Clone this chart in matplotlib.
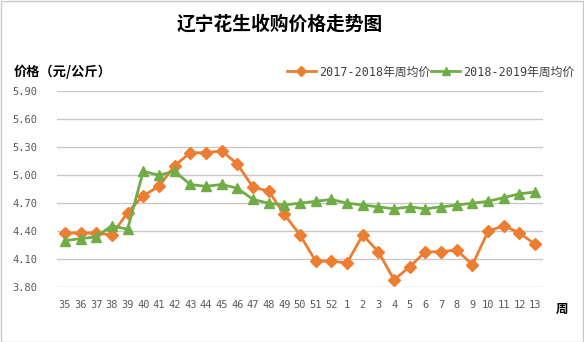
import matplotlib
matplotlib.use("Agg")
import matplotlib.pyplot as plt
from matplotlib.patches import Rectangle

plt.rcParams["font.family"] = ["Noto Sans CJK SC", "DejaVu Sans"]

weeks = ["35", "36", "37", "38", "39", "40", "41", "42", "43", "44", "45", "46",
         "47", "48", "49", "50", "51", "52", "1", "2", "3", "4", "5", "6", "7",
         "8", "9", "10", "11", "12", "13"]
price_1718 = [4.38, 4.38, 4.38, 4.36, 4.60, 4.78, 4.88, 5.10, 5.24, 5.24, 5.26, 5.12,
              4.87, 4.83, 4.58, 4.36, 4.08, 4.08, 4.06, 4.36, 4.18, 3.88, 4.02, 4.18,
              4.18, 4.20, 4.04, 4.40, 4.46, 4.38, 4.26]
price_1819 = [4.30, 4.32, 4.34, 4.46, 4.42, 5.04, 5.00, 5.04, 4.90, 4.88, 4.90, 4.86,
              4.74, 4.70, 4.68, 4.70, 4.72, 4.74, 4.70, 4.68, 4.66, 4.64, 4.66, 4.64,
              4.66, 4.68, 4.70, 4.72, 4.76, 4.80, 4.82]
yticks = [3.80, 4.10, 4.40, 4.70, 5.00, 5.30, 5.60, 5.90]

mono_cjk = ["DejaVu Sans Mono", "Noto Sans CJK SC"]

fig = plt.figure(figsize=(5.84, 3.42), dpi=100)
ax = fig.add_axes([57 / 584, 1 - 287.3 / 342, 486 / 584, 196.3 / 342])

x = list(range(len(weeks)))
ax.plot(x, price_1718, color="#ED7D31", lw=2, marker="D", ms=6.5,
        label="2017-2018年周均价", zorder=3)
ax.plot(x, price_1819, color="#70AD47", lw=2, marker="^", ms=6.5,
        label="2018-2019年周均价", zorder=3)

ax.set_xlim(-0.5, len(weeks) - 0.5)
ax.set_ylim(3.80, 5.90)
ax.set_yticks(yticks)
ax.set_yticklabels([f"{v:.2f}" for v in yticks], fontsize=7.5, color="#595959",
                   family="DejaVu Sans Mono")
ax.set_xticks(x)
ax.set_xticklabels(weeks, fontsize=7.5, color="#595959", family="DejaVu Sans Mono")
ax.tick_params(length=0)
ax.tick_params(axis="y", pad=14)
ax.tick_params(axis="x", pad=9)
ax.grid(True, axis="y", color="#C8C8C8", lw=1)
ax.set_axisbelow(True)
for s in ax.spines.values():
    s.set_visible(False)

fig.text(280 / 584, 1 - 24 / 342, "辽宁花生收购价格走势图", ha="center", va="center",
         fontsize=13.5, fontweight="bold")
fig.text(14 / 584, 1 - 72 / 342, "价格（元/公斤）", ha="left", va="center",
         fontsize=9.5, fontweight="bold")
fig.text(562 / 584, 1 - 309 / 342, "周", ha="center", va="center",
         fontsize=9, fontweight="bold")

leg = ax.legend(loc="center left", bbox_to_anchor=(287 / 584, 1 - 72 / 342),
                bbox_transform=fig.transFigure, ncol=2, frameon=False,
                prop={"family": mono_cjk, "size": 8.5}, borderpad=0, borderaxespad=0,
                handlelength=2.45, columnspacing=0.1, handletextpad=0.25,
                markerscale=0.8)
for t in leg.get_texts():
    t.set_color("#404040")

fig.patches.append(Rectangle((0.5 / 584, 0.5 / 342), 582 / 584, 340.5 / 342,
                             transform=fig.transFigure, fill=False,
                             edgecolor="#C8C8C8", lw=1))

fig.savefig("out.png", dpi=100)
